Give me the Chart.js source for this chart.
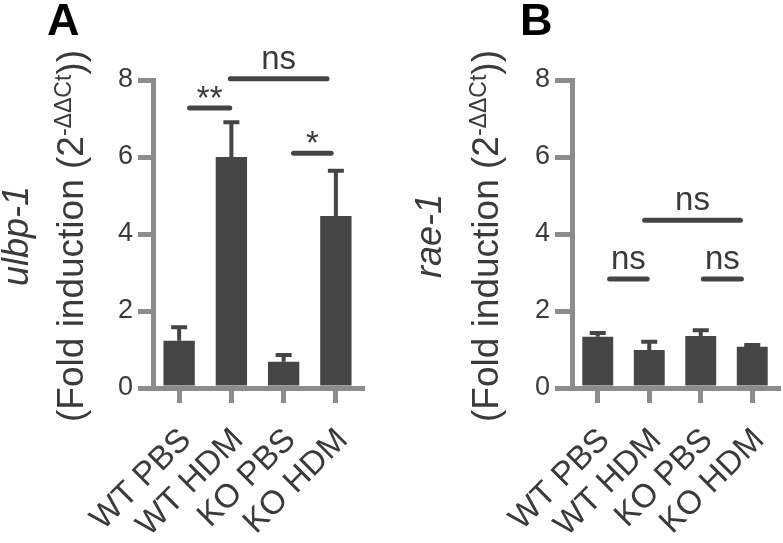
<!DOCTYPE html>
<html>
<head>
<meta charset="utf-8">
<script src="https://cdn.jsdelivr.net/npm/chart.js@4"></script>
<style>
body { margin: 0; background: #fff; }
#wrap { position: relative; width: 783px; height: 543px; }
canvas { position: absolute; top: 0; }
</style>
</head>
<body>
<div id="wrap">
<canvas id="chartA" width="392" height="543" style="left:0"></canvas>
<canvas id="chartB" width="391" height="543" style="left:392px"></canvas>
</div>
<script>
const groups = ["WT PBS", "WT HDM", "KO PBS", "KO HDM"];
const yMax = 8;
const yStep = 2;

const ulbpMean = [1.23, 6.0, 0.68, 4.47];
const ulbpSem = [0.35, 0.9, 0.18, 1.17];
const raeMean = [1.33, 0.99, 1.35, 1.07];
const raeSem = [0.1, 0.21, 0.15, 0.05];

// significance bars: from/to in category index units, level in y units
const ulbpSigFrom = [0.2, 0.98, 2.19];
const ulbpSigTo = [0.97, 2.83, 2.91];
const ulbpSigLevel = [7.27, 8.03, 6.1];
const ulbpSigText = ["**", "ns", "*"];

const raeSigFrom = [0.23, 2.05, 0.91];
const raeSigTo = [0.96, 2.79, 2.77];
const raeSigLevel = [2.83, 2.83, 4.36];
const raeSigText = ["ns", "ns", "ns"];

const axisGray = "#8c8c8c";
const barColor = "#454545";
const textColor = "#3a3a3a";
const fontName = "'Liberation Sans', Arial, sans-serif";

Chart.defaults.font.family = fontName;

const extras = {
    id: "extras",
    afterDatasetsDraw(chart, args, opts) {
        const ctx = chart.ctx;
        const x = chart.scales.x;
        const y = chart.scales.y;
        ctx.save();
        ctx.strokeStyle = barColor;
        ctx.fillStyle = barColor;

        // error bars (upper only)
        ctx.lineWidth = 4;
        ctx.lineCap = "butt";
        opts.mean.forEach((m, i) => {
            const px = x.getPixelForValue(i);
            const y0 = y.getPixelForValue(m);
            const y1 = y.getPixelForValue(m + opts.sem[i]);
            ctx.beginPath();
            ctx.moveTo(px, y0);
            ctx.lineTo(px, y1);
            ctx.moveTo(px - 8, y1);
            ctx.lineTo(px + 8, y1);
            ctx.stroke();
        });

        // significance lines
        ctx.lineWidth = 5;
        ctx.lineCap = "round";
        ctx.font = "33px " + fontName;
        ctx.textAlign = "center";
        ctx.textBaseline = "alphabetic";
        const x0 = x.getPixelForValue(0);
        const step = x.getPixelForValue(1) - x0;
        opts.sigFrom.forEach((f, i) => {
            const xa = x0 + f * step;
            const xb = x0 + opts.sigTo[i] * step;
            const py = y.getPixelForValue(opts.sigLevel[i]);
            ctx.beginPath();
            ctx.moveTo(xa, py);
            ctx.lineTo(xb, py);
            ctx.stroke();
            const m = ctx.measureText(opts.sigText[i]);
            ctx.fillStyle = textColor;
            ctx.fillText(opts.sigText[i], (xa + xb) / 2, py - 10 - m.actualBoundingBoxDescent);
        });

        // panel letter
        ctx.fillStyle = "#000";
        ctx.textAlign = "left";
        ctx.font = "bold 45px " + fontName;
        ctx.fillText(opts.letter, opts.letterX, 35);

        // y-axis title, two rotated lines
        ctx.fillStyle = textColor;
        ctx.translate(0, opts.titleY);
        ctx.rotate(-Math.PI / 2);
        ctx.font = "italic 36px " + fontName;
        ctx.textAlign = "center";
        ctx.fillText(opts.gene, 0, opts.titleX1);

        ctx.textAlign = "left";
        const mainFont = "37px " + fontName;
        const supFont = "23px " + fontName;
        const part1 = "(Fold induction (2";
        const sup = "-\u0394\u0394Ct";
        const part2 = "))";
        ctx.font = mainFont;
        const w1 = ctx.measureText(part1).width;
        const w3 = ctx.measureText(part2).width;
        ctx.font = supFont;
        const w2 = ctx.measureText(sup).width;
        let sx = -(w1 + w2 + w3) / 2;
        ctx.font = mainFont;
        ctx.fillText(part1, sx, opts.titleX2);
        sx += w1;
        ctx.font = supFont;
        ctx.fillText(sup, sx, opts.titleX2 - 12);
        sx += w2;
        ctx.font = mainFont;
        ctx.fillText(part2, sx, opts.titleX2);
        ctx.restore();
    }
};

function makeChart(id, mean, sem, sig, panel) {
    return new Chart(document.getElementById(id), {
        type: "bar",
        data: {
            labels: groups,
            datasets: [{
                data: mean,
                backgroundColor: barColor,
                barPercentage: 0.6,
                categoryPercentage: 1.0
            }]
        },
        options: {
            responsive: false,
            animation: false,
            layout: {
                padding: { left: 0, top: 80, right: panel.padRight, bottom: 0 }
            },
            plugins: {
                legend: { display: false },
                tooltip: { enabled: false },
                extras: {
                    mean: mean,
                    sem: sem,
                    sigFrom: sig[0],
                    sigTo: sig[1],
                    sigLevel: sig[2],
                    sigText: sig[3],
                    letter: panel.letter,
                    letterX: panel.letterX,
                    gene: panel.gene,
                    titleX1: panel.titleX1,
                    titleX2: panel.titleX2,
                    titleY: 236
                }
            },
            scales: {
                x: {
                    z: 1,
                    grid: {
                        offset: false,
                        drawOnChartArea: false,
                        tickLength: 15,
                        color: axisGray,
                        lineWidth: 5
                    },
                    border: { color: axisGray, width: 5 },
                    ticks: {
                        minRotation: 45,
                        maxRotation: 45,
                        autoSkip: false,
                        padding: 18,
                        labelOffset: 7,
                        color: textColor,
                        font: { size: 33 }
                    },
                    afterFit: function (scale) {
                        scale.height = 155;
                        scale.paddingLeft = 0;
                        scale.paddingRight = 0;
                    }
                },
                y: {
                    z: 1,
                    min: 0,
                    max: yMax,
                    grid: {
                        drawOnChartArea: false,
                        tickLength: panel.tickLen,
                        color: axisGray,
                        lineWidth: 5
                    },
                    border: { color: axisGray, width: 5 },
                    ticks: {
                        stepSize: yStep,
                        padding: 5,
                        color: textColor,
                        font: { size: 27 }
                    },
                    afterFit: function (scale) {
                        scale.width = panel.axisLeft;
                        scale.paddingTop = 0;
                        scale.paddingBottom = 0;
                    }
                }
            }
        },
        plugins: [extras]
    });
}

makeChart("chartA", ulbpMean, ulbpSem,
    [ulbpSigFrom, ulbpSigTo, ulbpSigLevel, ulbpSigText],
    { letter: "A", letterX: 47, gene: "ulbp-1", titleX1: 28, titleX2: 83, axisLeft: 153, padRight: 30, tickLen: 15 });
makeChart("chartB", raeMean, raeSem,
    [raeSigFrom, raeSigTo, raeSigLevel, raeSigText],
    { letter: "B", letterX: 128, gene: "rae-1", titleX1: 49, titleX2: 106, axisLeft: 180, padRight: 5, tickLen: 17 });
</script>
</body>
</html>
